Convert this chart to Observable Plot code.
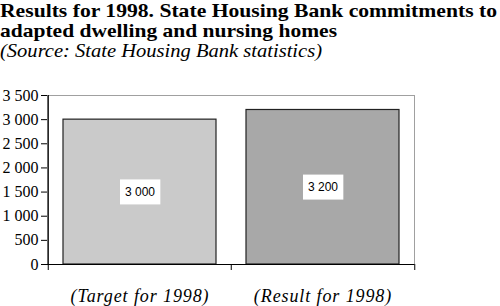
<!DOCTYPE html>
<html>
<head>
<meta charset="utf-8">
<script src="https://cdn.jsdelivr.net/npm/d3@7"></script>
<script src="https://cdn.jsdelivr.net/npm/@observablehq/plot@0.6"></script>
<style>
  html, body { margin: 0; padding: 0; background: #fff; }
  #wrap { position: relative; width: 500px; height: 306px; overflow: hidden; }
  .t { position: absolute; left: 0; white-space: nowrap; font-family: "Liberation Serif", serif; color: #000; transform-origin: 0 0; }
  .b { font-weight: bold; font-size: 19px; line-height: 20px; }
  .i { font-style: italic; font-size: 18px; line-height: 20px; }
  #chart { position: absolute; left: 0; top: 62px; }
  #chart g.ytl text, #chart g.xlab text { font-family: "Liberation Serif", serif !important; }
</style>
</head>
<body>
<div id="wrap">
  <div class="t b" id="l1" style="top:1px" data-w="497">Results for 1998. State Housing Bank commitments to</div>
  <div class="t b" id="l2" style="top:21px" data-w="337">adapted dwelling and nursing homes</div>
  <div class="t i" id="l3" style="top:41px" data-w="322">(Source: State Housing Bank statistics)</div>
  <div id="chart"></div>
</div>
<script>
const categories = ["(Target for 1998)", "(Result for 1998)"];
const values = [3000, 3200];
const valueLabels = ["3 000", "3 200"];
const yTicks = [0, 500, 1000, 1500, 2000, 2500, 3000, 3500];
const barColors = ["#cacaca", "#a8a8a8"];

const data = categories.map((c, i) => ({category: c, value: values[i], label: valueLabels[i], color: barColors[i]}));

// fit title lines to the reference widths
document.querySelectorAll(".t").forEach(el => {
  const w = el.getBoundingClientRect().width;
  const target = +el.dataset.w;
  el.style.transform = `scaleX(${target / w})`;
});

const W = 500, H = 244, mL = 47, mR = 86, mT = 33, mB = 42;
const step = (W - mL - mR) / categories.length;
const fmt = d => d3.format(",")(d).replace(/,/g, " ");
const serif = "Liberation Serif, serif";

const plot = Plot.plot({
  width: W, height: H,
  marginLeft: mL, marginRight: mR, marginTop: mT, marginBottom: mB,
  style: {fontFamily: serif, fontSize: "16px", color: "#000", background: "#fff"},
  x: {domain: categories, padding: 0, label: null},
  y: {domain: [0, 3500], label: null},
  marks: [
    Plot.frame({stroke: "#a0a0a0"}),
    Plot.barY(data, {x: "category", y: "value", fill: "color", stroke: "#222", strokeWidth: 1.2, insetLeft: 15, insetRight: 15}),
    Plot.ruleY([0], {stroke: "#000", strokeWidth: 1.2}),
    Plot.ruleX([categories[0]], {dx: -step / 2, stroke: "#000", strokeWidth: 1.2}),
    Plot.ruleX(categories, {x: d => d, y1: 0, y2: 0, insetBottom: -6, dx: -step / 2, stroke: "#000"}),
    Plot.ruleX([categories[categories.length - 1]], {x: d => d, y1: 0, y2: 0, insetBottom: -6, dx: step / 2, stroke: "#000"}),
    Plot.axisY({ticks: yTicks, tickFormat: fmt, tickSize: 6, tickPadding: 3, fontSize: 16, fontFamily: serif, label: null, stroke: "#000", className: "ytl"}),
    Plot.axisX({tickSize: 0, tickPadding: 25, fontSize: 18, fontFamily: serif, fontStyle: "italic", label: null, className: "xlab"}),
    Plot.text(data, {x: "category", y: d => d.value / 2, text: "label", fontFamily: "Liberation Sans, Arial, sans-serif", fontSize: 12, fill: "#000", className: "vlabel"})
  ]
});
document.getElementById("chart").appendChild(plot);

// serif face for the axis texts; widen the italic category labels slightly
d3.select(plot).selectAll("text").filter(function() { return !this.closest("g.vlabel"); })
  .attr("font-family", serif).style("font-family", serif);
d3.select(plot).selectAll("g.xlab text").style("letter-spacing", "0.9px");

// white boxes behind the value labels
d3.select(plot).selectAll("g.vlabel text").each(function() {
  const bb = this.getBBox();
  const padX = 5, boxH = 25;
  const cy = bb.y + bb.height / 2;
  d3.select(this.parentNode).insert("rect", () => this)
    .attr("x", bb.x - padX).attr("y", cy - boxH / 2)
    .attr("width", bb.width + 2 * padX).attr("height", boxH)
    .attr("fill", "#fff")
    .attr("transform", this.getAttribute("transform"));
});
</script>
</body>
</html>
